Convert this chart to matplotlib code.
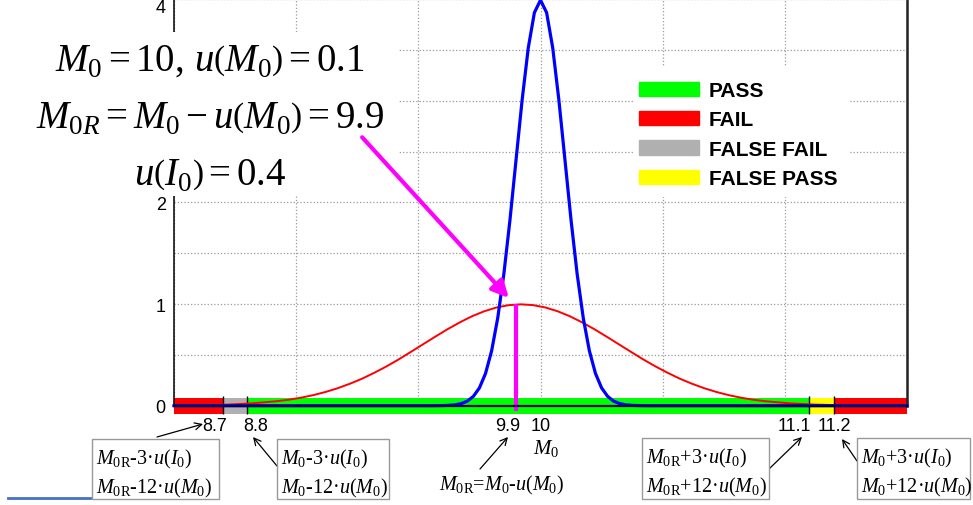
import matplotlib
matplotlib.use("Agg")
import matplotlib.pyplot as plt
from matplotlib.patches import Rectangle, Patch

plt.rcParams['mathtext.fontset'] = 'custom'
plt.rcParams['mathtext.rm'] = 'Liberation Serif'
plt.rcParams['mathtext.it'] = 'Liberation Serif:italic'
plt.rcParams['mathtext.bf'] = 'Liberation Serif:bold'
plt.rcParams['font.family'] = ['Liberation Sans', 'DejaVu Sans']

# ---------------- data ----------------
# narrow distribution (blue), M0 = 10, u(M0) = 0.1
blue_x = [8.50, 9.55, 9.575, 9.60, 9.625, 9.65, 9.675, 9.70, 9.725, 9.75, 9.775, 9.80,
          9.825, 9.85, 9.875, 9.90, 9.925, 9.95, 9.975, 10.0, 10.025, 10.05, 10.075,
          10.10, 10.125, 10.15, 10.175, 10.20, 10.225, 10.25, 10.275, 10.30, 10.325,
          10.35, 10.375, 10.40, 10.425, 10.45, 11.50]
blue_y = [0.0, 0.0, 0.0005, 0.0013, 0.0035, 0.0087, 0.020, 0.044, 0.091, 0.175, 0.317, 0.540,
          0.863, 1.295, 1.826, 2.420, 3.011, 3.520, 3.866, 3.989, 3.866, 3.520, 3.011,
          2.420, 1.826, 1.295, 0.863, 0.540, 0.317, 0.175, 0.091, 0.044, 0.020,
          0.0087, 0.0035, 0.0013, 0.0005, 0.0, 0.0]

# wide distribution (red), u(I0) = 0.4
red_x = [8.50, 8.62, 8.72, 8.82, 8.92, 8.97, 9.02, 9.07, 9.12, 9.17, 9.22, 9.27, 9.32,
         9.37, 9.42, 9.47, 9.52, 9.57, 9.62, 9.67, 9.72, 9.77, 9.82, 9.87, 9.92,
         9.97, 10.02, 10.07, 10.12, 10.17, 10.22, 10.27, 10.32, 10.37, 10.42, 10.47,
         10.52, 10.57, 10.62, 10.67, 10.72, 10.77, 10.82, 10.87, 10.92, 11.02, 11.12,
         11.22, 11.32, 11.50]
red_y = [0.002, 0.005, 0.011, 0.023, 0.044, 0.059, 0.079, 0.104, 0.135, 0.172, 0.216, 0.266, 0.324,
         0.387, 0.456, 0.530, 0.605, 0.680, 0.753, 0.820, 0.880, 0.929, 0.966, 0.989, 0.997,
         0.989, 0.966, 0.929, 0.880, 0.820, 0.753, 0.680, 0.605, 0.530, 0.456, 0.387,
         0.324, 0.266, 0.216, 0.172, 0.135, 0.104, 0.079, 0.059, 0.044, 0.023, 0.011,
         0.005, 0.002, 0.000]

# decision zones along the axis
zone_edges = [8.5, 8.7, 8.8, 11.1, 11.2, 11.5]
zone_colors = ['#ff0000', '#b0b0b0', '#00ff00', '#ffff00', '#ff0000']

legend_labels = ['PASS', 'FAIL', 'FALSE FAIL', 'FALSE PASS']
legend_colors = ['#00ff00', '#ff0000', '#b0b0b0', '#ffff00']

limit_lines = [8.7, 8.8, 11.1, 11.2]
M0R = 9.9
M0R_height = 1.0

xlabel_vals = [8.7, 8.8, 9.9, 10, 11.1, 11.2]
xlabel_text = ['8.7', '8.8', '9.9', '10', '11.1', '11.2']
xlabel_dx_px = [-8, 8, -8, 0, -15, 1]

ytick_vals = [0, 0.5, 1, 1.5, 2, 2.5, 3, 3.5, 4]
ytick_text = ['0', '', '1', '', '2', '', '', '', '4']
xtick_vals = [8.5, 9.0, 9.5, 10.0, 10.5, 11.0, 11.5]

# ---------------- figure ----------------
W, H = 973, 506
fig = plt.figure(figsize=(W / 100, H / 100), dpi=100)

def fx(px):
    return px / W

def fy(py):
    return 1 - py / H

ax = fig.add_axes([fx(174), fy(406.7), fx(907) - fx(174), 406.7 / H])
ax.set_xlim(8.5, 11.5)
ax.set_ylim(0, 4)

ax.set_xticks(xtick_vals)
ax.set_xticklabels([''] * len(xtick_vals))
ax.set_yticks(ytick_vals)
ax.set_yticklabels(ytick_text, fontsize=13)
ax.tick_params(axis='both', direction='in', length=4, width=1, pad=6)
ax.tick_params(axis='y', length=0)
lab4 = ax.get_yticklabels()[-1]
lab4.set_va('top')

ax.grid(True, linestyle=':', color='#9a9a9a', linewidth=0.9, zorder=0)
ax.set_axisbelow(True)

for s in ['left', 'bottom']:
    ax.spines[s].set_color('black')
    ax.spines[s].set_linewidth(1.1)
ax.spines['bottom'].set_zorder(3.5)
ax.spines['bottom'].set_color('#000040')
ax.spines['bottom'].set_linewidth(1.6)
ax.spines['right'].set_color('#222222')
ax.spines['right'].set_linewidth(1.8)
ax.spines['top'].set_color('#c8c8c8')

# zone bands
for i, c in enumerate(zone_colors):
    ax.bar(zone_edges[i], 0.156, width=zone_edges[i + 1] - zone_edges[i], bottom=-0.08,
           align='edge', color=c, edgecolor='none', clip_on=False, zorder=1.6)
ax.vlines(limit_lines, -0.085, 0.1, colors='black', lw=1, clip_on=False, zorder=3)

# curves
ax.plot(red_x, red_y, color='#ff0000', lw=1.4, zorder=3.2, clip_on=False)
ax.plot(blue_x, blue_y, color='#0000ff', lw=2.3, zorder=3.3, clip_on=False)

# M0R marker
ax.vlines([M0R], -0.05, M0R_height, colors='#ff00ff', lw=3, zorder=3.4, clip_on=False)

# white cover behind upper-left formulas
ax.add_patch(Rectangle((0, fy(197)), fx(398), fy(33) - fy(197), transform=fig.transFigure,
                       facecolor='white', edgecolor='none', clip_on=False, zorder=4))
# white cover behind legend
ax.add_patch(Rectangle((fx(633), fy(198)), fx(849) - fx(633), fy(67) - fy(198),
                       transform=fig.transFigure, facecolor='white', edgecolor='none',
                       clip_on=False, zorder=4))

# magenta arrow
ax.annotate('', xy=(9.87, 1.06), xytext=(9.27, 2.64),
            arrowprops=dict(arrowstyle='-|>,head_length=1.0,head_width=0.5', lw=3,
                            color='#ff00ff', shrinkA=0, shrinkB=0),
            zorder=6, annotation_clip=False)

# formulas upper left
fs_big = 28
top_lines = [r'$M_0 = 10,\, u\left(M_0\right) = 0.1$',
             r'$M_{0R} = M_0 - u\left(M_0\right) = 9.9$',
             r'$u\left(I_0\right) = 0.4$']
for txt, yb in zip(top_lines, [72, 128, 185]):
    ax.text(fx(210), fy(yb), txt, transform=fig.transFigure, ha='center', va='baseline',
            fontsize=fs_big, zorder=7)

# legend
handles = [Patch(facecolor=c, edgecolor=c) for c in legend_colors]
leg = ax.legend(handles, legend_labels, loc='upper left',
                bbox_to_anchor=(fx(639), fy(82)), bbox_transform=fig.transFigure,
                frameon=False, borderpad=0, borderaxespad=0,
                handlelength=2.88, handleheight=0.67, handletextpad=0.48,
                labelspacing=0.5,
                prop={'family': 'Liberation Sans', 'weight': 'bold', 'size': 15})
leg.set_zorder(6)

# x labels (tick values)
for v, t, dx in zip(xlabel_vals, xlabel_text, xlabel_dx_px):
    ax.annotate(t, xy=(v, 0), xycoords=('data', 'axes fraction'),
                xytext=(dx * 0.72, -20 * 0.72), textcoords='offset points',
                ha='center', va='center', fontsize=13, annotation_clip=False)

# M0 under 10
fig.text(fx(533), fy(454), r'$M_0$', ha='left', va='baseline', fontsize=15)

# boxed annotations
serif = 'Liberation Serif'
fs_box = 14.5
boxes = [
    ((92, 440, 219, 500), r'$M_{\mathrm{0R}}$-3·$u(I_0)$', r'$M_{\mathrm{0R}}$-12·$u(M_0)$'),
    ((277, 440, 389, 500), r'$M_0$-3·$u(I_0)$', r'$M_0$-12·$u(M_0)$'),
    ((642, 439, 769, 500), r'$M_{\mathrm{0R}}$+3·$u(I_0)$', r'$M_{\mathrm{0R}}$+12·$u(M_0)$'),
    ((857, 439, 970, 500), r'$M_0$+3·$u(I_0)$', r'$M_0$+12·$u(M_0)$'),
]
for (x0, y0, x1, y1), l1, l2 in boxes:
    fig.patches.append(Rectangle((fx(x0), fy(y1)), fx(x1) - fx(x0), fy(y0) - fy(y1),
                                 transform=fig.transFigure, facecolor='white',
                                 edgecolor='#999999', lw=1.0, figure=fig))
    fig.text(fx(x0 + 4), fy(y0 + 24), l1, family=serif, fontsize=fs_box, va='baseline')
    fig.text(fx(x0 + 4), fy(y0 + 53), l2, family=serif, fontsize=fs_box, va='baseline')

fig.text(fx(439), fy(490), r'$M_{\mathrm{0R}}$=$M_0$-$u(M_0)$', family=serif,
         fontsize=fs_box, va='baseline')

# small arrows
arrows = [((157, 438), (203, 425)), ((277, 467), (253, 438)), ((480, 470), (508, 438)),
          ((769, 470), (802, 438)), ((857, 462), (842, 440))]
for (sx, sy), (ex, ey) in arrows:
    ax.annotate('', xy=(fx(ex), fy(ey)), xycoords='figure fraction',
                xytext=(fx(sx), fy(sy)), textcoords='figure fraction',
                arrowprops=dict(arrowstyle='->,head_length=0.5,head_width=0.25', lw=0.9,
                                color='black', shrinkA=0, shrinkB=0),
                annotation_clip=False)

# short blue line at bottom left
fig.add_artist(plt.Line2D([fx(8), fx(90)], [fy(499), fy(499)], color='#4472c4', lw=2.0))

fig.savefig('out.png', dpi=100)
